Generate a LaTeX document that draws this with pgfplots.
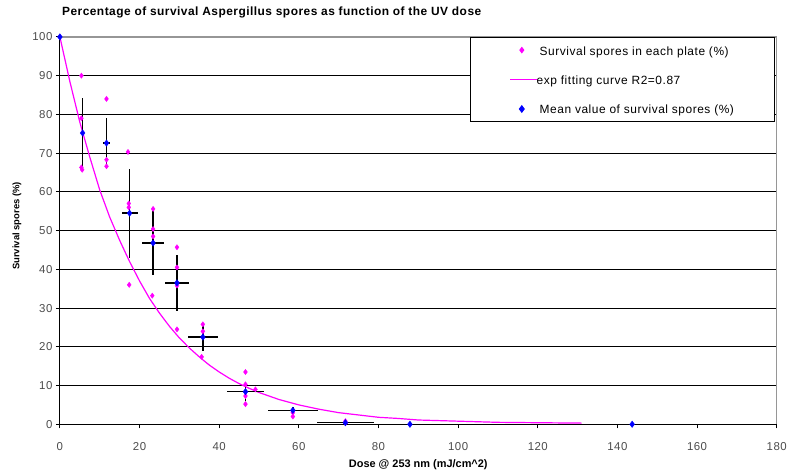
\documentclass[border=0pt]{standalone}
\usepackage{fontspec}
\setmainfont{Liberation Sans}
\usepackage{pgfplots}
\pgfplotsset{compat=1.18}

\definecolor{plate}{RGB}{255,0,255}
\definecolor{meanblue}{RGB}{0,0,255}
\definecolor{frame}{RGB}{150,150,150}

% individual plates (%)
\pgfplotstableread{
x y
0 100
5.4 90
5.4 79
5.4 66.3
5.6 65.7
11.7 84
11.7 68.3
11.7 66.6
17.1 70.3
17.3 57
17.3 56
17.4 36
23.4 55.6
23.4 50.4
23.4 48.5
23.2 33.2
29.4 45.7
29.4 40.5
29.4 35.8
29.4 24.5
35.9 25.8
35.9 24
35.6 17.4
46.6 13.5
46.6 10.3
46.6 7.3
46.6 5.2
49.1 9.0
58.5 3.0
58.5 2.0
71.7 0.8
71.7 0.3
}\plates

% mean values with error bars
\pgfplotstableread{
x y ex ey
0 100 0 0
5.7 75.2 0.4 9
11.7 72.6 1.0 6.5
17.5 54.5 2.0 11.5
23.4 46.8 2.7 8.2
29.4 36.5 3.0 7.3
35.9 22.5 3.7 3.5
46.6 8.4 4.7 2.5
58.5 3.6 6.2 0.8
71.7 0.4 7.2 0.3
87.9 0 0 0
143.7 0 0 0
}\means

% exponential fit
\pgfplotstableread{
x y
0 100
2.5 88.5
5 78
7.5 69
10 60.5
12.5 53.5
15 47.5
17.5 42
20 37
22.5 32.5
25 28.7
27.5 25.3
30 22.3
32.5 19.7
35 17.4
37.5 15.3
40 13.5
42.5 11.9
45 10.5
47.5 9.3
50 8.2
55 6.4
60 5.0
65 3.9
70 3.0
75 2.4
80 1.8
85 1.5
90 1.1
100 0.8
110 0.5
120 0.4
131 0.3
}\fit

\pgfplotsset{
  platelegend/.style={legend image code/.code={\path[draw=none] (0bp,0bp) -- (27bp,0bp);
        \path[draw=plate, fill=plate, mark size=2.6bp] plot[mark=diamond*] coordinates {(11.7bp,0bp)};}},
  meanlegend/.style={legend image code/.code={\path[draw=none] (0bp,0bp) -- (27bp,0bp);
        \path[draw=meanblue, fill=meanblue, mark size=3.2bp] plot[mark=diamond*] coordinates {(11.7bp,0bp)};}},
  fitlegend/.style={legend image code/.code={%
        \pgfsetstrokecolor{plate}\pgfsetlinewidth{1.2bp}%
        \pgfpathmoveto{\pgfpoint{0bp}{0bp}}\pgfpathlineto{\pgfpoint{27bp}{0bp}}%
        \pgfusepath{stroke}}},
}

\begin{document}
\begin{tikzpicture}[x=1bp,y=1bp]
\path (0,0) rectangle (790,475);
\begin{axis}[
    at={(60bp,50bp)}, anchor=south west,
    scale only axis,
    width=718bp, height=388bp,
    xmin=0, xmax=180, ymin=0, ymax=100,
    xtick={0,20,...,180}, ytick={0,10,...,100},
    axis x line*=bottom, axis y line*=left,
    axis line style={black, line width=1.2bp, -},
    tick style={black, line width=1bp},
    major tick length=4bp,
    tick align=outside,
    ymajorgrids,
    grid style={black, line width=1bp},
    clip=false,
    /pgf/number format/assume math mode=true,
    tick label style={font=\fontsize{11.5}{13}\selectfont\addfontfeature{LetterSpace=4}, text=black!70},
    xticklabel style={yshift=-11bp},
    title={\fontsize{12}{14}\selectfont\bfseries\addfontfeature{LetterSpace=4}Percentage of survival Aspergillus spores as function of the UV dose},
    title style={at={(0,1)}, anchor=south west, xshift=2bp, yshift=13bp, inner sep=0pt},
    xlabel={\fontsize{11}{13}\selectfont\bfseries Dose @ 253 nm (mJ/cm\textasciicircum 2)},
    ylabel={\fontsize{9.5}{11}\selectfont\bfseries Survival spores (\%)},
    xlabel style={at={(axis description cs:0.5,0)}, anchor=north, inner sep=0pt, yshift=-35bp},
    ylabel style={at={(axis description cs:-0.06,0.512)}, anchor=center, inner sep=0pt},
    legend style={at={(1,1)}, anchor=north east, xshift=-1.3bp, yshift=0.3bp,
        draw=black, line width=1bp, fill=white,
        font=\fontsize{12}{14}\selectfont\addfontfeature{LetterSpace=4.5},
        nodes={inner sep=2bp, text height=11bp, text depth=1bp},
        inner xsep=39bp, inner ysep=5bp, row sep=13.5bp,
        /tikz/every even column/.style={column sep=0pt},
        cells={anchor=west}},
    legend cell align=left,
]
\addplot[only marks, mark=diamond*, mark size=2.6bp, color=plate, platelegend]
    table[x=x, y=y] {\plates};
\addlegendentry{Survival spores in each plate (\%)}

\addplot[draw=plate, line width=1.2bp, no marks, fitlegend]
    table[x=x, y=y] {\fit};
\addlegendentry{\hspace*{-3bp}exp fitting curve R2=0.87}

\addplot[only marks, mark=diamond*, mark size=3.2bp, color=meanblue, meanlegend,
    error bars/.cd, x dir=both, y dir=both, x explicit, y explicit,
    error mark=none,
    error bar style={black, line width=1.4bp}]
    table[x=x, y=y, x error=ex, y error=ey] {\means};
\addlegendentry{Mean value of survival spores (\%)}

\draw[frame, line width=1.2bp] (rel axis cs:0,1) -- (rel axis cs:1,1) -- (rel axis cs:1,0);
\end{axis}
\end{tikzpicture}
\end{document}
